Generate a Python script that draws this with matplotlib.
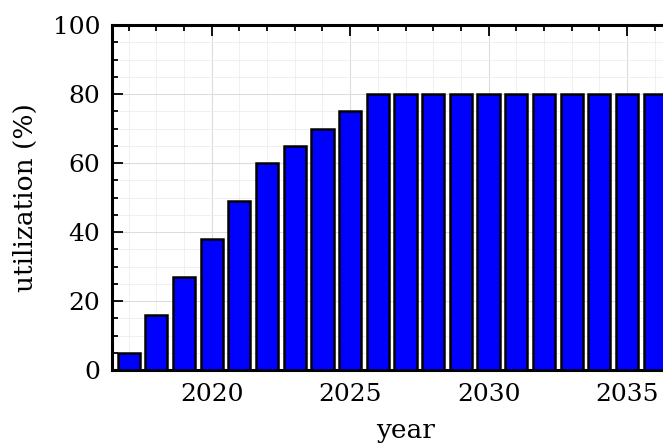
import matplotlib
matplotlib.use("Agg")
import matplotlib.pyplot as plt
from matplotlib.ticker import MultipleLocator

years = [2017, 2018, 2019, 2020, 2021, 2022, 2023, 2024, 2025, 2026,
         2027, 2028, 2029, 2030, 2031, 2032, 2033, 2034, 2035, 2036]
utilization = [5, 16, 27, 38, 49, 60, 65, 70, 75, 80,
               80, 80, 80, 80, 80, 80, 80, 80, 80, 80]

plt.rcParams['font.family'] = ['DejaVu Serif']

fig = plt.figure(figsize=(6.63, 4.44), dpi=100)
W, H = 663, 444
left, right, top, bottom = 112, 699, 25, 370
ax = fig.add_axes([left / W, 1 - bottom / H, (right - left) / W, (bottom - top) / H])

ax.bar(years, utilization, width=0.8, color='#0000ff', edgecolor='black',
       linewidth=1.8, zorder=3)

ax.set_xlim(2016.4, 2037.6)
ax.set_ylim(0, 100)
ax.xaxis.set_major_locator(MultipleLocator(5))
ax.xaxis.set_minor_locator(MultipleLocator(1))
ax.yaxis.set_major_locator(MultipleLocator(20))
ax.yaxis.set_minor_locator(MultipleLocator(5))

ax.grid(which='major', color='#dddddd', linewidth=0.8, zorder=0)
ax.grid(which='minor', color='#eeeeee', linewidth=0.6, zorder=0)
ax.set_axisbelow(True)

ax.tick_params(which='both', direction='in', top=True, right=True,
               labelsize=18, width=1.3)
ax.tick_params(which='major', length=8)
ax.tick_params(which='minor', length=4)
ax.tick_params(axis='x', which='major', pad=9)
ax.tick_params(axis='y', which='major', pad=8.5)

for s in ax.spines.values():
    s.set_linewidth(2.2)

ax.set_xlabel('year', fontsize=19, labelpad=9)
ax.set_ylabel('utilization (%)', fontsize=19, labelpad=11)

fig.savefig('out.png', dpi=100)
